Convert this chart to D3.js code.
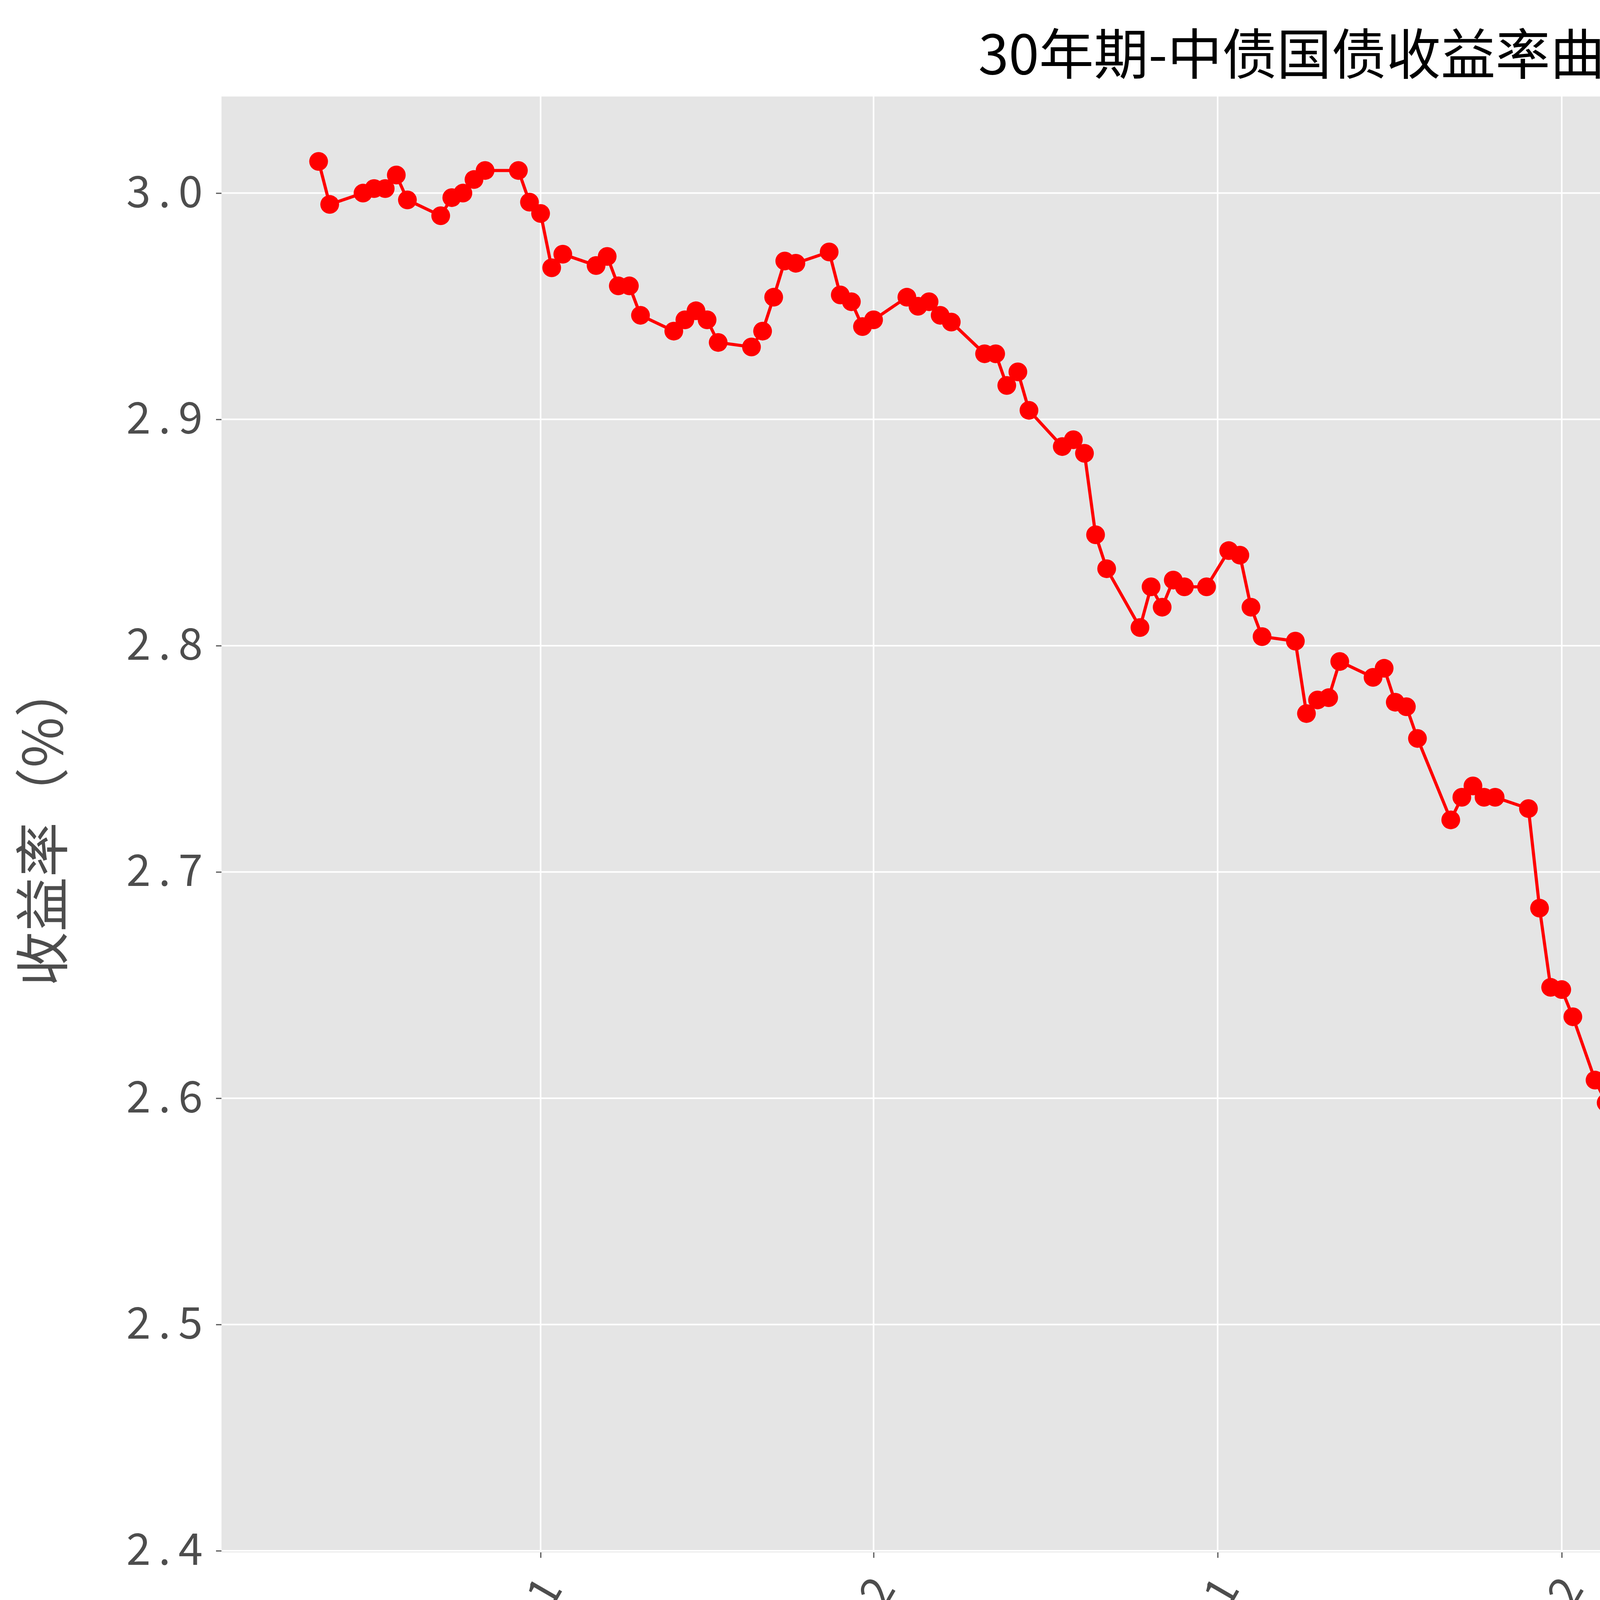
<!DOCTYPE html>
<html>
<head>
<meta charset="utf-8">
<script src="https://cdn.jsdelivr.net/npm/d3@7"></script>
<style>
  body { margin: 0; background: #fff; }
  text { font-family: "Noto Sans CJK SC", sans-serif; }
</style>
</head>
<body>
<svg id="chart" width="6194" height="4573"></svg>
<script>
// trading dates and 30y yields (%)
const dates = [
  '2023-10-12','2023-10-13','2023-10-16','2023-10-17','2023-10-18','2023-10-19','2023-10-20',
  '2023-10-23','2023-10-24','2023-10-25','2023-10-26','2023-10-27','2023-10-30','2023-10-31',
  '2023-11-01','2023-11-02','2023-11-03','2023-11-06','2023-11-07','2023-11-08','2023-11-09','2023-11-10',
  '2023-11-13','2023-11-14','2023-11-15','2023-11-16','2023-11-17','2023-11-20','2023-11-21','2023-11-22',
  '2023-11-23','2023-11-24','2023-11-27','2023-11-28','2023-11-29','2023-11-30','2023-12-01',
  '2023-12-04','2023-12-05','2023-12-06','2023-12-07','2023-12-08','2023-12-11','2023-12-12','2023-12-13',
  '2023-12-14','2023-12-15','2023-12-18','2023-12-19','2023-12-20','2023-12-21','2023-12-22',
  '2023-12-25','2023-12-26','2023-12-27','2023-12-28','2023-12-29','2023-12-31',
  '2024-01-02','2024-01-03','2024-01-04','2024-01-05','2024-01-08','2024-01-09','2024-01-10','2024-01-11',
  '2024-01-12','2024-01-15','2024-01-16','2024-01-17','2024-01-18','2024-01-19','2024-01-22','2024-01-23',
  '2024-01-24','2024-01-25','2024-01-26','2024-01-29','2024-01-30','2024-01-31','2024-02-01','2024-02-02',
  '2024-02-04','2024-02-05','2024-02-06','2024-02-07','2024-02-08','2024-02-09',
  '2024-02-18','2024-02-19','2024-02-20','2024-02-21','2024-02-22','2024-02-23','2024-02-26','2024-02-27',
  '2024-02-28','2024-02-29','2024-03-01','2024-03-04','2024-03-05','2024-03-06','2024-03-07','2024-03-08',
  '2024-03-11','2024-03-12','2024-03-13','2024-03-14','2024-03-15','2024-03-18','2024-03-19','2024-03-20',
  '2024-03-21','2024-03-22','2024-03-25','2024-03-26','2024-03-27','2024-03-28','2024-03-29',
  '2024-04-01','2024-04-02','2024-04-03','2024-04-07','2024-04-08','2024-04-09'
];
const yields = [
  3.014,2.995,3.000,3.002,3.002,3.008,2.997,
  2.990,2.998,3.000,3.006,3.010,3.010,2.996,
  2.991,2.967,2.973,2.968,2.972,2.959,2.959,2.946,
  2.939,2.944,2.948,2.944,2.934,2.932,2.939,2.954,
  2.970,2.969,2.974,2.955,2.952,2.941,2.944,
  2.954,2.950,2.952,2.946,2.943,2.929,2.929,2.915,
  2.921,2.904,2.888,2.891,2.885,2.849,2.834,
  2.808,2.826,2.817,2.829,2.826,2.826,
  2.842,2.840,2.817,2.804,2.802,2.770,2.776,2.777,
  2.793,2.786,2.790,2.775,2.773,2.759,2.723,2.733,
  2.738,2.733,2.733,2.728,2.684,2.649,2.648,2.636,
  2.608,2.598,2.658,2.622,2.651,2.651,
  2.644,2.628,2.601,2.601,2.592,2.581,2.541,2.523,
  2.488,2.462,2.492,2.474,2.480,2.428,2.431,2.434,
  2.477,2.542,2.532,2.534,2.510,2.486,2.449,2.466,
  2.462,2.483,2.497,2.499,2.465,2.467,2.460,
  2.486,2.476,2.464,2.478,2.466,2.464
];
const yTicks = [2.4, 2.5, 2.6, 2.7, 2.8, 2.9, 3.0];
const xTicks = ['2023-11-01','2023-12-01','2024-01-01','2024-02-01','2024-03-01','2024-04-01'];

const parse = d3.timeParse('%Y-%m-%d');
const data = dates.map((d, i) => ({date: parse(d), value: yields[i]}));

const svg = d3.select('#chart');
const m = {left: 567, right: 6186, top: 247, bottom: 3974};

const x = d3.scaleTime()
  .domain([new Date(2023, 9, 3, 6), new Date(2024, 3, 18)])
  .range([m.left, m.right]);
const y = d3.scaleLinear()
  .domain([2.3993, 3.0427])
  .range([m.bottom, m.top]);

svg.append('rect')
  .attr('x', m.left).attr('y', m.top)
  .attr('width', m.right - m.left).attr('height', m.bottom - m.top)
  .attr('fill', '#e5e5e5');

// grid
svg.append('g').selectAll('line').data(yTicks).join('line')
  .attr('x1', m.left).attr('x2', m.right)
  .attr('y1', d => y(d)).attr('y2', d => y(d))
  .attr('stroke', '#fff').attr('stroke-width', 4);
svg.append('g').selectAll('line').data(xTicks.map(parse)).join('line')
  .attr('x1', d => x(d)).attr('x2', d => x(d))
  .attr('y1', m.top).attr('y2', m.bottom)
  .attr('stroke', '#fff').attr('stroke-width', 4);

// axes
const yAxis = svg.append('g')
  .attr('transform', `translate(${m.left},0)`)
  .call(d3.axisLeft(y).tickValues(yTicks).tickFormat(d3.format('.1f')).tickSize(14).tickPadding(14));
yAxis.select('.domain').remove();
yAxis.selectAll('line').attr('stroke', '#555').attr('stroke-width', 3);
yAxis.selectAll('text').attr('font-size', 112).attr('fill', '#4d4d4d')
  .attr('letter-spacing', 20);

const xAxis = svg.append('g')
  .attr('transform', `translate(0,${m.bottom})`)
  .call(d3.axisBottom(x).tickValues(xTicks.map(parse)).tickFormat(d3.timeFormat('%Y-%m')).tickSize(14).tickPadding(14));
xAxis.select('.domain').remove();
xAxis.selectAll('line').attr('stroke', '#555').attr('stroke-width', 3);
xAxis.selectAll('text').attr('font-size', 112).attr('fill', '#4d4d4d')
  .attr('text-anchor', 'end')
  .attr('dy', '0.35em')
  .attr('transform', 'translate(0,60) rotate(-60)');

// line + markers
svg.append('path').datum(data)
  .attr('fill', 'none').attr('stroke', '#ff0000').attr('stroke-width', 8)
  .attr('d', d3.line().x(d => x(d.date)).y(d => y(d.value)));
svg.append('g').selectAll('circle').data(data).join('circle')
  .attr('cx', d => x(d.date)).attr('cy', d => y(d.value))
  .attr('r', 24).attr('fill', '#ff0000');

// title and labels
svg.append('text')
  .attr('x', (m.left + m.right) / 2).attr('y', 190)
  .attr('text-anchor', 'middle').attr('font-size', 140).attr('fill', '#000')
  .text('30年期-中债国债收益率曲线');
svg.append('text')
  .attr('transform', `translate(160,${(m.top + m.bottom) / 2}) rotate(-90)`)
  .attr('text-anchor', 'middle').attr('font-size', 140).attr('fill', '#4d4d4d')
  .text('收益率（%）');

// empty legend box
svg.append('rect')
  .attr('x', 6090).attr('y', 292).attr('width', 64).attr('height', 56).attr('rx', 10)
  .attr('fill', '#e5e5e5').attr('stroke', '#ccc').attr('stroke-width', 3);
</script>
</body>
</html>
